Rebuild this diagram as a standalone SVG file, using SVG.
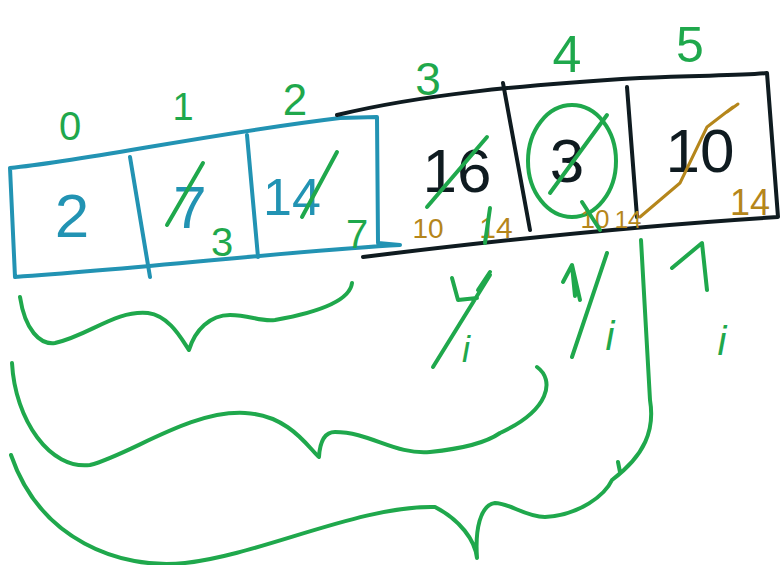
<svg xmlns="http://www.w3.org/2000/svg" width="782" height="565" viewBox="0 0 782 565">
<style>
.s{fill:none;stroke-linecap:round;stroke-linejoin:round}
.g{stroke:#1fa84c;stroke-width:4}
.b{stroke:#2293b3;stroke-width:4}
.k{stroke:#0f1b20;stroke-width:4}
.o{stroke:#b5861b;stroke-width:3}
.t{font-family:"Liberation Sans","DejaVu Sans",sans-serif;text-anchor:middle}
.tg{fill:#1fa84c}.tb{fill:#2293b3}.tk{fill:#0f1b20}.to{fill:#b5861b}
</style>
<rect width="782" height="565" fill="#ffffff"/>
<g id="array-blue">
<path class="s b" d="M10,168 C90,160 200,135 340,118 L377,117 L378,243 L400,245 C300,250 150,268 15,277 L10,168"/>
<path class="s b" d="M130,157 L150,277"/>
<path class="s b" d="M247,135 L258,257"/>
<text class="t tb" x="72" y="237" font-size="62">2</text>
<text class="t tb" x="190" y="228" font-size="60">7</text>
<text class="t tb" x="292" y="215" font-size="52">14</text>
<path class="s g" d="M167,225 L203,163"/>
<path class="s g" d="M302,217 L337,152"/>
<text class="t tg" x="222" y="256" font-size="40">3</text>
<text class="t tg" x="357" y="248" font-size="40">7</text>
</g>
<g id="array-black">
<path class="s k" d="M337,115 C420,95 520,85 640,78 C700,75 740,76 767,73 L778,217 C650,225 500,240 363,257"/>
<path class="s k" d="M503,83 L530,230"/>
<path class="s k" d="M627,87 L637,217"/>
<text class="t tk" x="457" y="192" font-size="62">16</text>
<text class="t tk" x="567" y="182" font-size="62">3</text>
<text class="t tk" x="700" y="172" font-size="62">10</text>
<path class="s g" d="M427,207 L487,137"/>
<ellipse class="s g" cx="572" cy="161" rx="44" ry="56"/>
<path class="s g" d="M550,193 L607,115"/>
<path class="s o" d="M640,217 L660,200 L680,183 L707,127 L733,107 M727,112 L738,104"/>
<text class="t to" x="428" y="238" font-size="28">10</text>
<text class="t to" x="496" y="238" font-size="30">14</text>
<text class="t to" x="595" y="228" font-size="26">10</text>
<text class="t to" x="628" y="228" font-size="24">14</text>
<text class="t to" x="750" y="215" font-size="36">14</text>
<path class="s g" d="M490,208 L485,243"/>
<path class="s g" d="M582,202 L600,230"/>
</g>
<g id="indices">
<text class="t tg" x="70" y="140" font-size="40">0</text>
<text class="t tg" x="183" y="120" font-size="38">1</text>
<text class="t tg" x="295" y="115" font-size="44">2</text>
<text class="t tg" x="428" y="95" font-size="46">3</text>
<text class="t tg" x="567" y="72" font-size="52">4</text>
<text class="t tg" x="690" y="62" font-size="50">5</text>
</g>
<g id="pointers">
<path class="s g" d="M433,367 L490,275 M452,278 L458,300 L477,298 M478,290 L490,272"/>
<text class="t tg" x="466" y="362" font-size="36" font-style="italic">i</text>
<path class="s g" d="M563,282 L572,265 L580,300 M572,265 L575,296"/>
<path class="s g" d="M572,357 L607,253"/>
<text class="t tg" x="610" y="350" font-size="40" font-style="italic">i</text>
<path class="s g" d="M672,268 L702,243 L707,290"/>
<text class="t tg" x="722" y="355" font-size="40" font-style="italic">i</text>
</g>
<g id="connectors">
<path class="s g" d="M20,297 C25,330 40,345 55,343 C90,335 115,310 148,313 C170,316 182,340 189,350 C195,330 210,315 230,315 C250,315 260,322 275,320 C320,312 350,300 352,283"/>
<path class="s g" d="M12,363 C15,420 50,470 90,465 C130,455 190,410 245,413 C290,415 310,450 319,457 C320,440 325,432 335,432 C370,432 395,455 430,452 C470,448 490,440 500,433 C550,410 555,380 537,367"/>
<path class="s g" d="M11,455 C40,540 120,570 185,563 C260,555 360,505 435,507 C460,520 475,540 477,558 C475,530 480,505 495,503 C510,503 525,517 545,517 C580,515 605,495 612,480 C645,455 655,430 650,400 L641,240 M618,462 L620,472"/>
</g>
</svg>
